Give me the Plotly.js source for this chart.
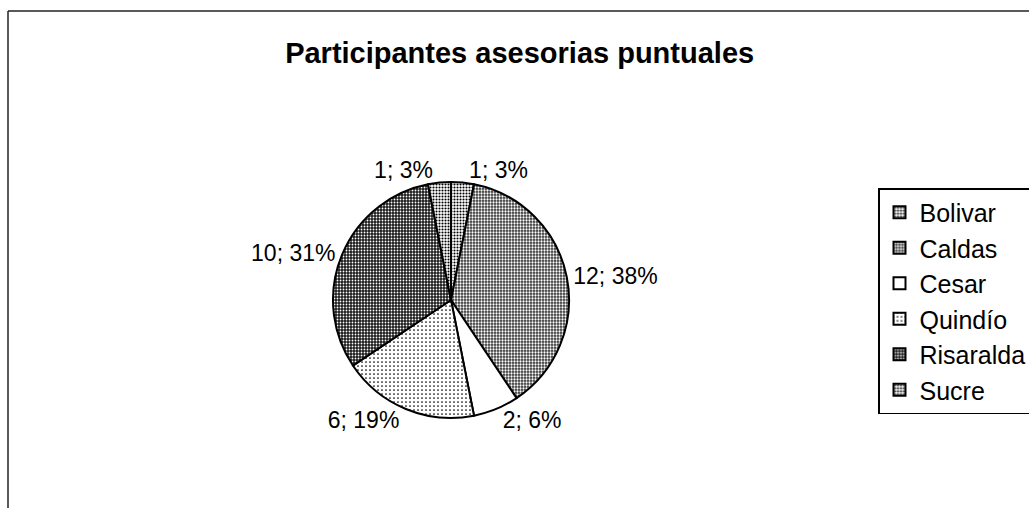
<!DOCTYPE html>
<html>
<head>
<meta charset="utf-8">
<script src="https://cdn.plot.ly/plotly-3.0.1.min.js"></script>
<style>html,body{margin:0;padding:0;background:#fff;}#chart{width:1029px;height:508px;}</style>
</head>
<body>
<div id="chart"></div>
<script>
const departamentos = ["Bolivar", "Caldas", "Cesar", "Quindío", "Risaralda", "Sucre"];
const participantes = [1, 12, 2, 6, 10, 1];
const chartTitle = "Participantes asesorias puntuales";

const patternShapes = [".", ".", "", ".", ".", "."];
const patternSizes = [3, 3, 4, 4, 3, 3];
const patternSolidity = [0.38, 0.45, 0.0, 0.15, 0.3, 0.38];
const patternFg = ["#000", "#fff", "#000", "#000", "#fff", "#000"];
const patternBg = ["#fff", "#333333", "#fff", "#fff", "#1a1a1a", "#fff"];

const trace = {
  type: "pie",
  labels: departamentos,
  values: participantes,
  sort: false,
  direction: "clockwise",
  rotation: 0,
  textposition: "outside",
  texttemplate: "%{value}; %{percent:.0%}",
  textfont: {family: "Liberation Sans, Arial, sans-serif", size: 23, color: "#000"},
  outsidetextfont: {family: "Liberation Sans, Arial, sans-serif", size: 23, color: "#000"},
  hoverinfo: "none",
  marker: {
    colors: patternBg,
    line: {color: "#000", width: 2},
    pattern: {
      shape: patternShapes,
      size: patternSizes,
      solidity: patternSolidity,
      fgcolor: patternFg,
      bgcolor: patternBg,
      fillmode: "replace"
    }
  },
  domain: {x: [0.3236, 0.553], y: [0.177, 0.642]}
};

const layout = {
  width: 1029,
  height: 508,
  margin: {l: 0, r: 0, t: 0, b: 0, autoexpand: false},
  paper_bgcolor: "#fff",
  plot_bgcolor: "#fff",
  showlegend: true,
  title: {
    text: "<b>" + chartTitle + "</b>",
    font: {family: "Liberation Sans, Arial, sans-serif", size: 29, color: "#000"},
    x: 0.505, xanchor: "center", xref: "paper",
    y: 1 - 53/508, yanchor: "middle", yref: "paper"
  },
  legend: {
    x: 878/1029, xanchor: "left",
    y: 1 - 188/508, yanchor: "top",
    bordercolor: "#000", borderwidth: 1.5,
    bgcolor: "#fff",
    font: {family: "Liberation Sans, Arial, sans-serif", size: 25, color: "#000"},
    traceorder: "normal",
    entrywidth: 170, entrywidthmode: "pixels"
  },
  shapes: [
    {type: "line", xref: "paper", yref: "paper", x0: 8/1029, x1: 1.01, y0: 1 - 11/508, y1: 1 - 11/508, line: {color: "#222", width: 1.5}},
    {type: "line", xref: "paper", yref: "paper", x0: 8/1029, x1: 8/1029, y0: 1 - 11/508, y1: -0.01, line: {color: "#222", width: 1.5}}
  ]
};

Plotly.newPlot("chart", [trace], layout, {displayModeBar: false, staticPlot: true});
</script>
</body>
</html>
